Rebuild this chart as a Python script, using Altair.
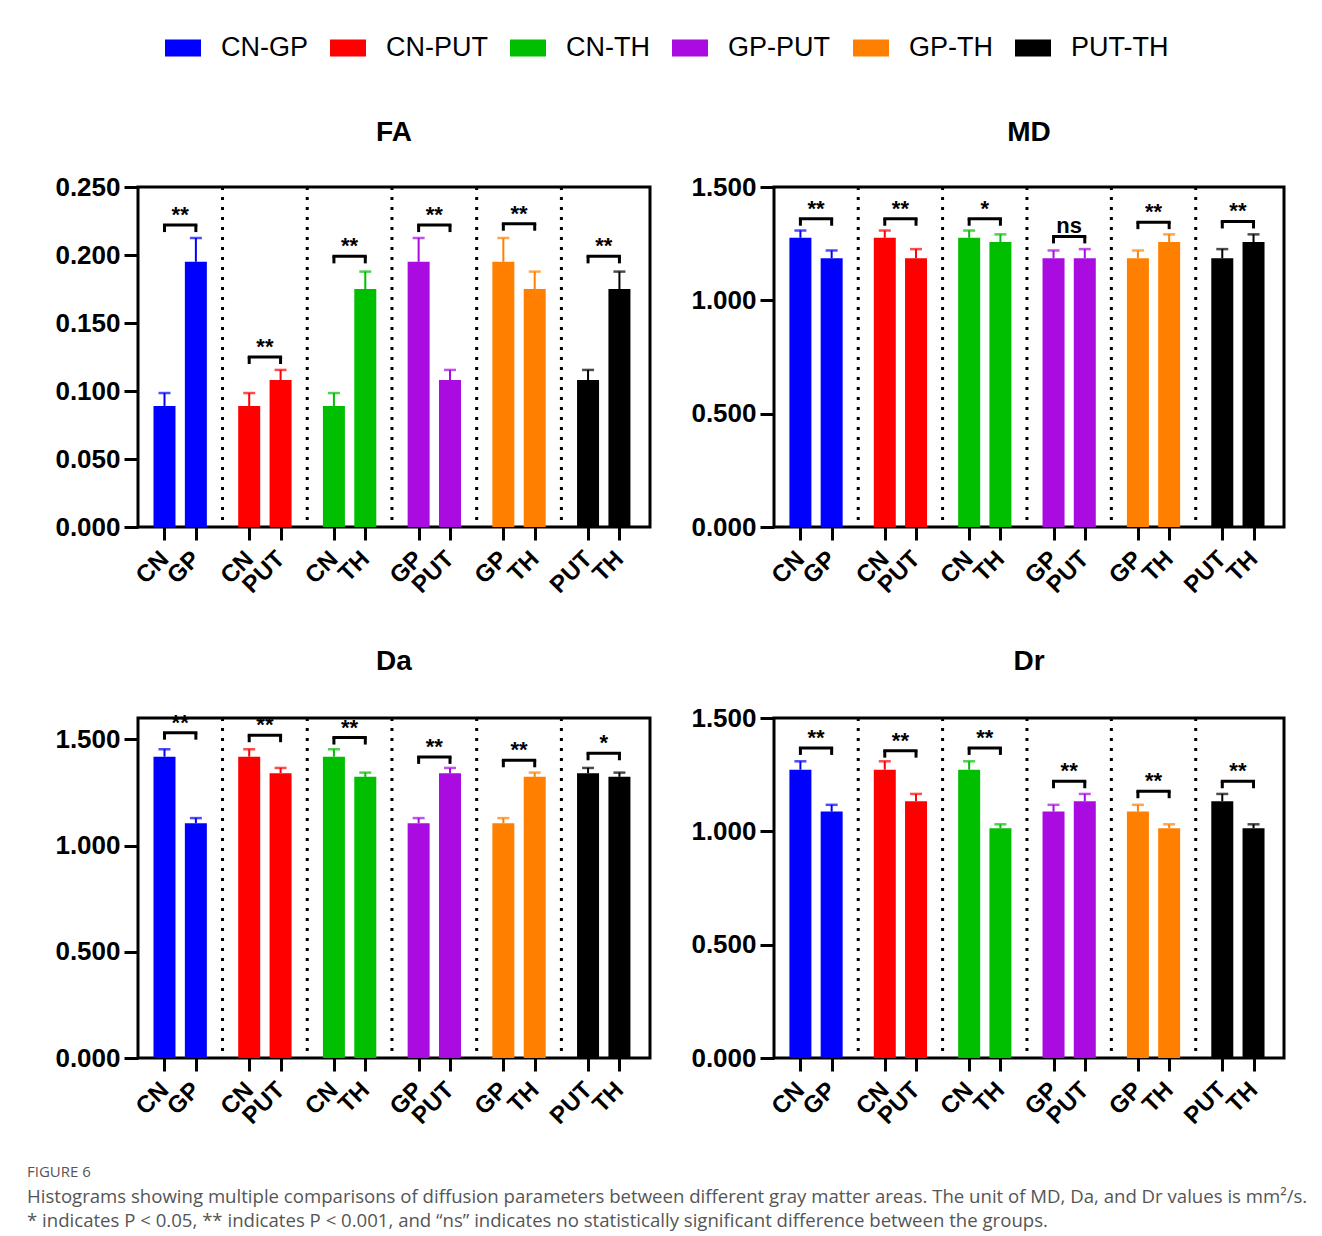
import altair as alt
import pandas as pd

# ---------------- data ----------------
pairs = ["CN-GP", "CN-PUT", "CN-TH", "GP-PUT", "GP-TH", "PUT-TH"]
first_lbl = ["CN", "CN", "CN", "GP", "GP", "PUT"]
second_lbl = ["GP", "PUT", "TH", "PUT", "TH", "TH"]
colors = ["#0000FF", "#FF0000", "#00BF00", "#A90BE0", "#FF8000", "#000000"]

fa_m1 = [0.089, 0.089, 0.089, 0.195, 0.195, 0.108]
fa_e1 = [0.0095, 0.0095, 0.0095, 0.0175, 0.0175, 0.0075]
fa_m2 = [0.195, 0.108, 0.175, 0.108, 0.175, 0.175]
fa_e2 = [0.0175, 0.0075, 0.0128, 0.0075, 0.0128, 0.0128]
fa_br = [0.222, 0.125, 0.199, 0.222, 0.223, 0.199]
fa_sig = ["**", "**", "**", "**", "**", "**"]

md_m1 = [1.276, 1.276, 1.276, 1.186, 1.186, 1.186]
md_e1 = [0.032, 0.032, 0.032, 0.034, 0.034, 0.040]
md_m2 = [1.186, 1.186, 1.257, 1.186, 1.257, 1.257]
md_e2 = [0.034, 0.040, 0.034, 0.040, 0.034, 0.034]
md_br = [1.360, 1.360, 1.360, 1.282, 1.345, 1.348]
md_sig = ["**", "**", "*", "ns", "**", "**"]

da_m1 = [1.418, 1.418, 1.418, 1.105, 1.105, 1.340]
da_e1 = [0.035, 0.035, 0.035, 0.024, 0.024, 0.025]
da_m2 = [1.105, 1.340, 1.323, 1.340, 1.323, 1.323]
da_e2 = [0.024, 0.025, 0.020, 0.025, 0.020, 0.020]
da_br = [1.531, 1.519, 1.508, 1.417, 1.401, 1.434]
da_sig = ["**", "**", "**", "**", "**", "*"]

dr_m1 = [1.272, 1.272, 1.272, 1.087, 1.087, 1.133]
dr_e1 = [0.037, 0.037, 0.037, 0.030, 0.030, 0.032]
dr_m2 = [1.087, 1.133, 1.014, 1.133, 1.014, 1.014]
dr_e2 = [0.030, 0.032, 0.017, 0.032, 0.017, 0.017]
dr_br = [1.368, 1.356, 1.368, 1.221, 1.177, 1.221]
dr_sig = ["**", "**", "**", "**", "**", "**"]

caption_head = "FIGURE 6"
caption_lines = [
    "Histograms showing multiple comparisons of diffusion parameters between different gray matter areas. The unit of MD, Da, and Dr values is mm\u00b2/s.",
    "* indicates P < 0.05, ** indicates P < 0.001, and \u201cns\u201d indicates no statistically significant difference between the groups.",
]

# ---------------- layout constants ----------------
X0, GSTEP, XMAX = 0.685, 2.7, 16.0
H = 340
FONT = "Liberation Sans"

positions = [round(X0 + g * GSTEP + j, 3) for g in range(6) for j in range(2)]
tick_labels = [lbl for g in range(6) for lbl in (first_lbl[g], second_lbl[g])]
seps = [round(X0 + g * GSTEP + 1 + (GSTEP - 1) / 2, 3) for g in range(5)]

label_expr = "[" + ",".join("'%s'" % t for t in tick_labels) + "][indexof([" + \
    ",".join(str(p) for p in positions) + "], datum.value)]"

cscale = alt.Scale(domain=pairs, range=colors)
LEGEND = alt.Legend(orient="none", legendX=27, legendY=-157, direction="horizontal",
                    columns=6, title=None, symbolType="M-1,-0.47H1V0.47H-1Z",
                    symbolSize=1296, symbolStrokeWidth=0, symbolOpacity=1,
                    labelFontSize=27, labelFont=FONT, labelColor="black",
                    labelOffset=20, columnPadding=22)


def panel(title, m1, e1, m2, e2, br, sig, ymax, yticks, width, toff):
    rows = []
    for g in range(6):
        for j, (m, e) in enumerate([(m1[g], e1[g]), (m2[g], e2[g])]):
            rows.append(dict(pair=pairs[g], pos=positions[2 * g + j], mean=m, top=m + e))
    df = pd.DataFrame(rows)
    bdf = pd.DataFrame(dict(
        x1=[positions[2 * g] for g in range(6)],
        x2=[positions[2 * g + 1] for g in range(6)],
        mid=[(positions[2 * g] + positions[2 * g + 1]) / 2 for g in range(6)],
        b=br, sig=sig))
    legs = pd.DataFrame(dict(x=positions, b=[br[k // 2] for k in range(12)]))
    sdf = pd.DataFrame(dict(sep=seps))

    sx = alt.Scale(domain=[0, XMAX], nice=False, zero=False)
    sy = alt.Scale(domain=[0, ymax], nice=False)
    xaxis = alt.Axis(values=positions, labelExpr=label_expr, labelAngle=-45,
                     labelAlign="right", labelBaseline="middle", labelPadding=15,
                     labelOverlap=False, labelBound=False, labelFlush=False,
                     labelFontSize=24, labelFontWeight="bold", labelFont=FONT,
                     labelColor="black", tickSize=13, tickWidth=3, tickColor="black",
                     domain=False, grid=False, title=None)
    yaxis = alt.Axis(values=yticks, format=".3f", labelFontSize=26, labelFontWeight="bold",
                     labelFont=FONT, labelColor="black", tickSize=14, tickWidth=3,
                     tickColor="black", labelPadding=4, labelOverlap=False,
                     domain=False, grid=False, title=None)

    color = alt.Color("pair:N", scale=cscale, legend=LEGEND)

    sep = alt.Chart(sdf).mark_rule(color="black", strokeWidth=3, strokeDash=[3, 7]).encode(
        x=alt.X("sep:Q", scale=sx, axis=xaxis))
    err = alt.Chart(df).mark_rule(strokeWidth=2).encode(
        x=alt.X("pos:Q", scale=sx), y=alt.Y("mean:Q", scale=sy, axis=yaxis), y2="top:Q",
        color=color)
    bars = alt.Chart(df).mark_bar(size=22).encode(
        x=alt.X("pos:Q", scale=sx), y=alt.Y("mean:Q", scale=sy), color=color)
    caps = alt.Chart(df).mark_tick(orient="horizontal", size=12, thickness=2.5).encode(
        x=alt.X("pos:Q", scale=sx), y=alt.Y("top:Q", scale=sy), color=color)
    hbar = alt.Chart(bdf).mark_rule(color="black", strokeWidth=3, strokeCap="square").encode(
        x=alt.X("x1:Q", scale=sx), x2="x2:Q", y=alt.Y("b:Q", scale=sy))
    leg = alt.Chart(legs).mark_rule(color="black", strokeWidth=3, y2Offset=7).encode(
        x=alt.X("x:Q", scale=sx), y=alt.Y("b:Q", scale=sy), y2="b:Q")
    txt = alt.Chart(bdf).mark_text(font=FONT, fontSize=22, fontWeight="bold", color="black",
                                   baseline="alphabetic", dy=-3).encode(
        x=alt.X("mid:Q", scale=sx), y=alt.Y("b:Q", scale=sy), text="sig:N")

    return alt.layer(sep, err, bars, caps, hbar, leg, txt).properties(
        width=width, height=H,
        title=alt.Title(title, font=FONT, fontSize=28, fontWeight="bold", color="black",
                        anchor="middle", frame="group", offset=toff))


fa = panel("FA", fa_m1, fa_e1, fa_m2, fa_e2, fa_br, fa_sig, 0.25,
           [0, 0.05, 0.1, 0.15, 0.2, 0.25], 512, 27)
md = panel("MD", md_m1, md_e1, md_m2, md_e2, md_br, md_sig, 1.5,
           [0, 0.5, 1.0, 1.5], 510, 27)
da = panel("Da", da_m1, da_e1, da_m2, da_e2, da_br, da_sig, 1.6,
           [0, 0.5, 1.0, 1.5], 512, 36)
dr = panel("Dr", dr_m1, dr_e1, dr_m2, dr_e2, dr_br, dr_sig, 1.5,
           [0, 0.5, 1.0, 1.5], 510, 29)

row1 = alt.hconcat(fa, md, spacing=37)
row2 = alt.hconcat(da, dr, spacing=37)

chart = alt.vconcat(row1, row2, spacing=47).resolve_scale(
    color="shared").resolve_legend(color="shared").properties(
    padding={"left": 19, "top": 22, "right": 5, "bottom": 5},
    title=alt.Title(caption_head, subtitle=caption_lines, anchor="start", frame="group",
                    orient="bottom", dx=-111, offset=35, font="Open Sans", fontSize=15,
                    fontWeight="normal", color="#555555", subtitleFont="Open Sans",
                    subtitleFontSize=18.6, subtitleColor="#555555", subtitleLineHeight=24,
                    subtitlePadding=8)
).configure(background="white").configure_view(stroke="black", strokeWidth=3)

chart.save("out.html", embed_options={"renderer": "svg", "actions": False})
